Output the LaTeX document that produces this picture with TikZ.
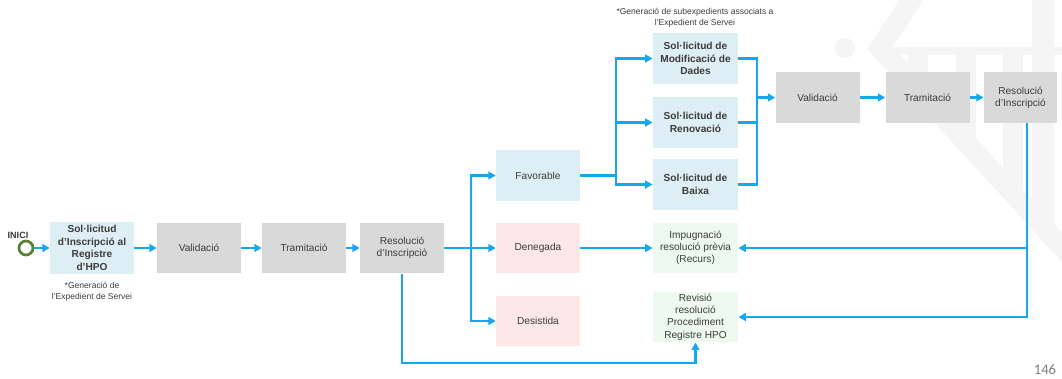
\documentclass[tikz,border=0pt]{standalone}
\usepackage{fontspec}
\setmainfont{Liberation Sans}
\newfontfamily\pgnumfont{Carlito}
\usetikzlibrary{arrows.meta}
\definecolor{lnblue}{RGB}{22,168,236}
\definecolor{boxgray}{RGB}{217,217,217}
\definecolor{boxblue}{RGB}{222,238,245}
\definecolor{boxpink}{RGB}{253,231,231}
\definecolor{boxgreen}{RGB}{238,250,238}
\definecolor{txtgray}{RGB}{60,60,60}
\definecolor{inigreen}{RGB}{84,130,53}
\definecolor{pggray}{RGB}{127,127,127}
\definecolor{wmgray}{RGB}{245,245,245}
\begin{document}
\begin{tikzpicture}[x=0.75pt,y=-0.75pt,
  card/.style={fill=#1, draw=none, inner sep=0pt, align=center,
    minimum width=63pt, minimum height=38pt, text=txtgray,
    font=\fontsize{7.6}{9.2}\selectfont},
  boldcard/.style={card=#1, font=\fontsize{7.6}{9.4}\selectfont\bfseries},
  note/.style={inner sep=0pt, align=center, text=txtgray,
    font=\fontsize{6.4}{8.4}\selectfont},
  flow/.style={draw=lnblue, line width=2.1pt},
  flowarrow/.style={flow, -{Triangle[length=5.5pt,width=5.8pt]}},
  wmark/.style={draw=wmgray, line width=15pt}]
\useasboundingbox (0,0) rectangle (1062,378);
\fill[white] (0,0) rectangle (1062,378);

% faint watermark
\begin{scope}
\clip (0,0) rectangle (1062,378);
\fill[wmgray] (845,48) circle[radius=7.5pt];
\draw[wmark, line join=miter] (918,-10) -- (880,48) -- (1090,278);
\draw[wmark, line width=6pt] (887,51) -- (1062,51);
\draw[wmark] (918,51) -- (918,89);
\draw[wmark] (966,51) -- (966,141);
\draw[wmark] (1013,51) -- (1013,191);
\draw[wmark, line width=16pt] (1043,-5) -- (1043,224);
\end{scope}

% start
\node[inner sep=0pt, text=txtgray, font=\fontsize{6.8}{8}\selectfont\bfseries] (inici) at (18,235) {INICI};
\node[circle, draw=inigreen, line width=2pt, minimum size=10.5pt, inner sep=0pt] (ini) at (26,248) {};

% first row
\node[boldcard=boxblue, minimum height=38.5pt] (s1) at (92,248) {Sol·licitud\\d’Inscripció al\\Registre\\d’HPO};
\node[card=boxgray] (v1) at (199,248) {Validació};
\node[card=boxgray] (t1) at (304,248) {Tramitació};
\node[card=boxgray] (r1) at (402,248) {Resolució\\d’Inscripció};
\node[note] (n1) at (92,292) {*Generació de\\l'Expedient de Servei};

% outcomes
\node[card=boxblue] (fav) at (538,175.5) {Favorable};
\node[card=boxpink] (den) at (538,248) {Denegada};
\node[card=boxpink] (des) at (538,321) {Desistida};

% sub-requests
\node[note] (n2) at (695,17.5) {*Generació de subexpedients associats a\\l'Expedient de Servei};
\node[boldcard=boxblue, minimum width=64pt] (mod) at (695.5,58.5) {Sol·licitud de\\Modificació de\\Dades};
\node[boldcard=boxblue, minimum width=64pt] (ren) at (695.5,122.5) {Sol·licitud de\\Renovació};
\node[boldcard=boxblue, minimum width=64pt] (bai) at (695.5,184.5) {Sol·licitud de\\Baixa};
\node[card=boxgreen, minimum width=64pt] (imp) at (695.5,248) {Impugnació\\resolució prèvia\\(Recurs)};
\node[card=boxgreen, minimum width=64pt] (rev) at (695.5,317) {Revisió\\resolució\\Procediment\\Registre HPO};

% second row
\node[card=boxgray] (v2) at (817.5,97.5) {Validació};
\node[card=boxgray] (t2) at (927.5,97.5) {Tramitació};
\node[card=boxgray, minimum width=55pt] (r2) at (1020.5,97.5) {Resolució\\d’Inscripció};

% page number
\node[inner sep=0pt, text=pggray, font=\pgnumfont\fontsize{11}{13}\selectfont] (pg) at (1045,370) {146};

% helper points
\coordinate (br1) at (471,248);
\coordinate (j1) at (616,175.5);
\coordinate (j2) at (757,97.5);
\coordinate (r2b) at (1027,123);
\coordinate (low) at (0,363);

% connectors
\draw[flowarrow] (ini.east) -- (s1.west);
\draw[flowarrow] (s1) -- (v1);
\draw[flowarrow] (v1) -- (t1);
\draw[flowarrow] (t1) -- (r1);
\draw[flowarrow] (r1) -- (den);
\draw[flowarrow] (br1) |- (fav.west);
\draw[flowarrow] (br1) |- (des.west);
\draw[flow] (fav.east) -- (j1);
\draw[flowarrow] (j1) |- (mod.west);
\draw[flowarrow] (j1) |- (ren.west);
\draw[flowarrow] (j1) |- (bai.west);
\draw[flow] (mod.east) -| (j2);
\draw[flow] (ren.east) -| (j2);
\draw[flow] (bai.east) -| (j2);
\draw[flowarrow] (j2) -- (v2.west);
\draw[flowarrow] (v2) -- (t2);
\draw[flowarrow] (t2) -- (r2);
\draw[flowarrow] (den) -- (imp);
\draw[flowarrow] (r2b) |- (imp.east);
\draw[flowarrow] (r2b) |- (rev.east);
\draw[flowarrow] (r1.south) |- (low -| rev.south) -- (rev.south);
\end{tikzpicture}
\end{document}
